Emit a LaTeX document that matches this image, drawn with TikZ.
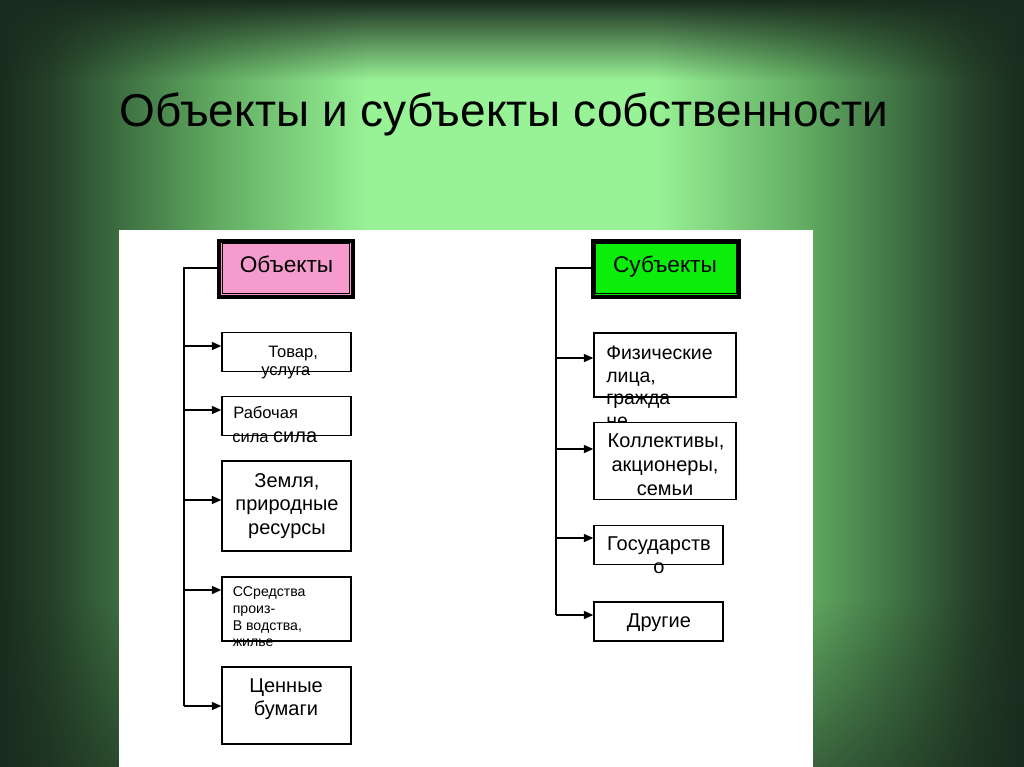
\documentclass[tikz,border=0pt]{standalone}
\usepackage{fontspec}
\setmainfont{Liberation Sans}
\usetikzlibrary{arrows.meta,fadings}
\definecolor{bgdark}{RGB}{26,44,30}
\definecolor{bgmid}{RGB}{62,112,66}
\definecolor{bgmid2}{RGB}{100,175,100}
\definecolor{bglight}{RGB}{152,242,150}
\definecolor{pinkfill}{RGB}{245,155,205}
\definecolor{greenfill}{RGB}{10,238,10}
\pgfdeclarehorizontalshading{bgshade}{100bp}{color(0bp)=(bgdark); color(25bp)=(bgdark); color(27.5bp)=(bgdark!70!bgmid); color(31bp)=(bgmid); color(36bp)=(bgmid2); color(43bp)=(bglight); color(57bp)=(bglight); color(64bp)=(bgmid2); color(69bp)=(bgmid); color(72.5bp)=(bgdark!70!bgmid); color(75bp)=(bgdark); color(100bp)=(bgdark)}
\tikzfading[name=topfade, top color=transparent!0, bottom color=transparent!100]
\tikzfading[name=botfade, top color=transparent!100, bottom color=transparent!0]
\tikzset{
  box/.style={draw=black, line width=1.1pt, fill=white, inner sep=0pt},
  headbox/.style={draw=black, line width=3pt, inner sep=0pt},
  conn/.style={line width=1.1pt},
  arr/.style={line width=1.1pt, -{Triangle[length=7pt,width=6pt]}},
  big/.style={font=\fontsize{15}{18}\selectfont, inner sep=0pt},
  small/.style={font=\fontsize{12.4}{15}\selectfont, inner sep=0pt},
  tiny/.style={font=\fontsize{10.6}{13}\selectfont, inner sep=0pt},
  head/.style={font=\fontsize{17}{20}\selectfont, inner sep=0pt},
}
\begin{document}
\begin{tikzpicture}[x=0.75pt,y=-0.75pt]
\useasboundingbox (0,0) rectangle (1024,767);
% background
\shade[shading=bgshade] (0,0) rectangle (1024,767);
\fill[bgdark, path fading=topfade] (0,0) rectangle (1024,80);
\fill[bgdark, opacity=0.55, path fading=botfade] (0,600) rectangle (1024,767);
% title
\node[anchor=base, inner sep=0pt, font=\fontsize{34.5}{40}\selectfont] (title) at (504,126) {Объекты и субъекты собственности};
% white panel
\fill[white] (119,230) rectangle (813,767);

% ---------- left column ----------
\node[headbox, fill=pinkfill, minimum width=100pt, minimum height=42pt] (obj) at (286,268.5) {};
\draw[line width=0.6pt] ([shift={(3.6pt,-3.6pt)}]obj.north west) rectangle ([shift={(-3.6pt,3.6pt)}]obj.south east);
\node[head, anchor=base] (objt) at (286.5,272) {Объекты};

\node[box, minimum width=96.75pt, minimum height=29pt] (o1) at (286.5,352) {};
\node[box, minimum width=96.75pt, minimum height=29pt] (o2) at (286.5,416) {};
\node[box, minimum width=96.75pt, minimum height=67.5pt] (o3) at (286.5,506) {};
\node[box, minimum width=96.75pt, minimum height=48pt] (o4) at (286.5,609) {};
\node[box, minimum width=96.75pt, minimum height=58pt] (o5) at (286.5,705.5) {};

\node[small, anchor=base west] (o1a) at (268,357) {Товар,};
\node[small, anchor=base west] (o1b) at (261,375) {услуга};
\node[small, anchor=base west] (o2a) at (233,418) {Рабочая};
\node[small, anchor=base west] (o2b) at (232,442) {сила {\fontsize{15}{18}\selectfont сила}};
\node[big, anchor=base] (o3a) at (287,487) {Земля,};
\node[big, anchor=base] (o3b) at (287,510.5) {природные};
\node[big, anchor=base] (o3c) at (287,534) {ресурсы};
\node[tiny, anchor=base west] (o4a) at (232.5,596.5) {ССредства};
\node[tiny, anchor=base west] (o4b) at (232.5,613) {произ-};
\node[tiny, anchor=base west] (o4c) at (232.5,630) {В водства,};
\node[tiny, anchor=base west] (o4d) at (232.5,646.5) {жилье};
\node[big, anchor=base] (o5a) at (286,692) {Ценные};
\node[big, anchor=base] (o5b) at (286,715.5) {бумаги};

\coordinate (lt) at (184,268);
\coordinate (lb) at (184,706);
\coordinate (l1) at (184,346);
\coordinate (l2) at (184,410);
\coordinate (l3) at (184,500);
\coordinate (l4) at (184,590);
\draw[conn] (lt -| obj.west) -- (lt) -- (lb);
\draw[arr] (l1) -- (l1 -| o1.west);
\draw[arr] (l2) -- (l2 -| o2.west);
\draw[arr] (l3) -- (l3 -| o3.west);
\draw[arr] (l4) -- (l4 -| o4.west);
\draw[arr] (lb) -- (lb -| o5.west);

% ---------- right column ----------
\node[headbox, fill=greenfill, minimum width=110pt, minimum height=42pt] (sub) at (666,268.5) {};
\draw[line width=0.6pt] ([shift={(3.6pt,-3.6pt)}]sub.north west) rectangle ([shift={(-3.6pt,3.6pt)}]sub.south east);
\node[head, anchor=base] (subt) at (665,272) {Субъекты};

\node[box, minimum width=106.5pt, minimum height=48pt] (s1) at (665,365) {};
\node[small, anchor=base west, font=\fontsize{14.6}{18}\selectfont] (s1a) at (606,359) {Физические};
\node[small, anchor=base west, font=\fontsize{14.6}{18}\selectfont] (s1b) at (606,382) {лица,};
\node[small, anchor=base west, font=\fontsize{14.6}{18}\selectfont] (s1c) at (606,404) {гражда};
\node[small, anchor=base west, font=\fontsize{14.6}{18}\selectfont] (s1d) at (606,427) {не};
\node[box, minimum width=106.5pt, minimum height=58pt] (s2) at (665,461) {};
\node[box, minimum width=96.75pt, minimum height=29pt] (s3) at (658.5,545) {};
\node[box, minimum width=96.75pt, minimum height=29pt] (s4) at (658.5,621.5) {};

\node[big, anchor=base] (s2a) at (666,447) {Коллективы,};
\node[big, anchor=base] (s2b) at (665,471.5) {акционеры,};
\node[big, anchor=base] (s2c) at (665,495) {семьи};
\node[big, anchor=base] (s3a) at (659,550) {Государств};
\node[big, anchor=base] (s3b) at (659,573) {о};
\node[big, anchor=base] (s4a) at (659,627) {Другие};

\coordinate (rt) at (556,268);
\coordinate (rb) at (556,615);
\coordinate (r1) at (556,358);
\coordinate (r2) at (556,449);
\coordinate (r3) at (556,538);
\draw[conn] (rt -| sub.west) -- (rt) -- (rb);
\draw[arr] (r1) -- (r1 -| s1.west);
\draw[arr] (r2) -- (r2 -| s2.west);
\draw[arr] (r3) -- (r3 -| s3.west);
\draw[arr] (rb) -- (rb -| s4.west);
\end{tikzpicture}
\end{document}
